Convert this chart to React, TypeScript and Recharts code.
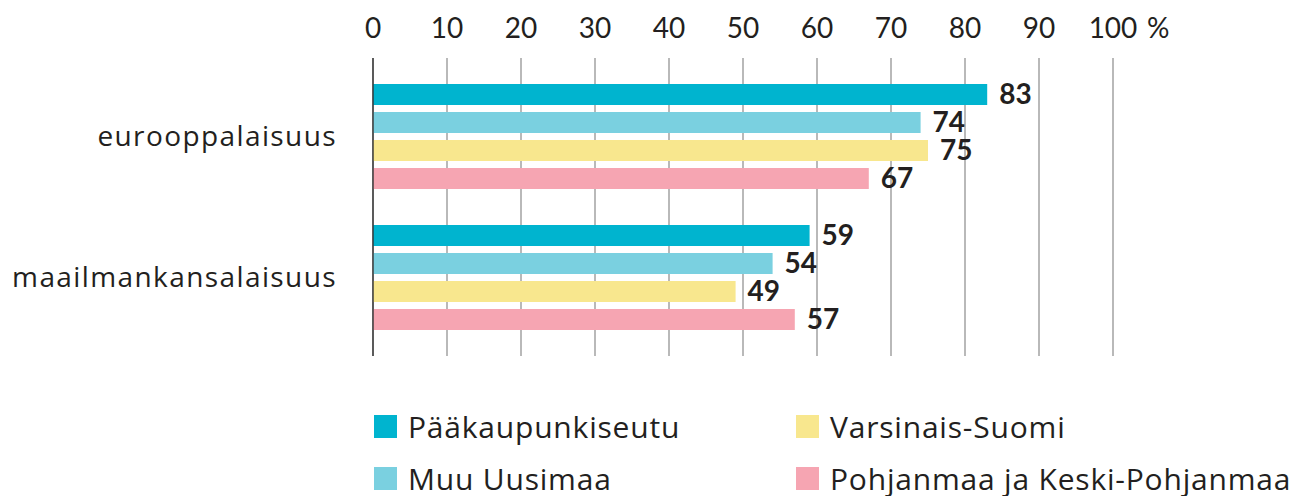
import React from 'react';
import { BarChart, Bar, XAxis, YAxis, CartesianGrid, LabelList, Legend } from 'recharts';

const categories = ['eurooppalaisuus', 'maailmankansalaisuus'];
const paakaupunkiseutu = [83, 59];
const muuUusimaa = [74, 54];
const varsinaisSuomi = [75, 49];
const pohjanmaa = [67, 57];
const xTicks = [0, 10, 20, 30, 40, 50, 60, 70, 80, 90, 100];

const seriesNames = ['Pääkaupunkiseutu', 'Muu Uusimaa', 'Varsinais-Suomi', 'Pohjanmaa ja Keski-Pohjanmaa'];
const seriesKeys = ['a', 'b', 'c', 'd'];
const colors = ['#00b4cf', '#7ad0e0', '#f8e78e', '#f6a5b2'];

const data = categories.map((name, i) => ({
  name,
  a: paakaupunkiseutu[i],
  b: muuUusimaa[i],
  c: varsinaisSuomi[i],
  d: pohjanmaa[i],
}));

const FONT = '"Open Sans", sans-serif';
const NUMFONT = 'Lato, sans-serif';
const TEXT = '#231f20';

const XTick = (p: any) => {
  const v = p.payload.value;
  if (v === 100) {
    return (
      <g>
        <text x={p.x} y={38} textAnchor="middle" fontSize={28} fontFamily={NUMFONT} fill={TEXT}>100</text>
        <text x={p.x + 34} y={38} textAnchor="start" fontSize={28} fontFamily={NUMFONT} fill={TEXT}>%</text>
      </g>
    );
  }
  return (
    <text x={p.x} y={38} textAnchor="middle" fontSize={28} fontFamily={NUMFONT} fill={TEXT}>{v}</text>
  );
};

const LegendContent = () => {
  const pos = [
    { left: 374, top: 415 },
    { left: 374, top: 467 },
    { left: 796, top: 415 },
    { left: 796, top: 467 },
  ];
  return (
    <div style={{ position: 'relative', width: 1299, height: 90 }}>
      {seriesNames.map((n, i) => (
        <div key={n} style={{ position: 'absolute', left: pos[i].left, top: pos[i].top - 405, display: 'flex', alignItems: 'center', height: 23 }}>
          <div style={{ width: 23, height: 23, background: colors[i] }} />
          <span style={{ display: 'inline-block', height: 23, marginLeft: 11, fontFamily: FONT, fontSize: 30, letterSpacing: 0.8, color: TEXT, whiteSpace: 'nowrap', lineHeight: '23px' }}>{n}</span>
        </div>
      ))}
    </div>
  );
};

export default function App() {
  return (
    <div style={{ position: 'absolute', left: 0, top: 0 }}>
      <BarChart
        width={1299}
        height={496}
        data={data}
        layout="vertical"
        margin={{ top: 0, right: 186, bottom: 140, left: 0 }}
        barSize={21}
        barGap={7}
      >
        <CartesianGrid horizontal={false} vertical={true} stroke="#8a8a8a" strokeWidth={1.2} />
        <XAxis
          type="number"
          orientation="top"
          domain={[0, 100]}
          ticks={xTicks}
          height={58}
          axisLine={false}
          tickLine={false}
          tick={<XTick />}
          interval={0}
        />
        <YAxis
          type="category"
          dataKey="name"
          width={373}
          padding={{ top: 8, bottom: 8 }}
          axisLine={{ stroke: '#333', strokeWidth: 1.4 }}
          tickLine={false}
          tickSize={0}
          tickMargin={36}
          tick={{ fontSize: 28, fontFamily: FONT, fill: TEXT, letterSpacing: 1.4 }}
        />
        <Legend layout="horizontal" verticalAlign="middle" align="center" wrapperStyle={{ top: 405, left: 0, width: 1299 }} content={<LegendContent />} />
        {seriesKeys.map((k, i) => (
          <Bar key={k} dataKey={k} name={seriesNames[i]} fill={colors[i]} isAnimationActive={false}>
            <LabelList dataKey={k} position="right" offset={12} fontSize={28} fontWeight={700} fontFamily={NUMFONT} fill={TEXT} />
          </Bar>
        ))}
      </BarChart>
    </div>
  );
}
